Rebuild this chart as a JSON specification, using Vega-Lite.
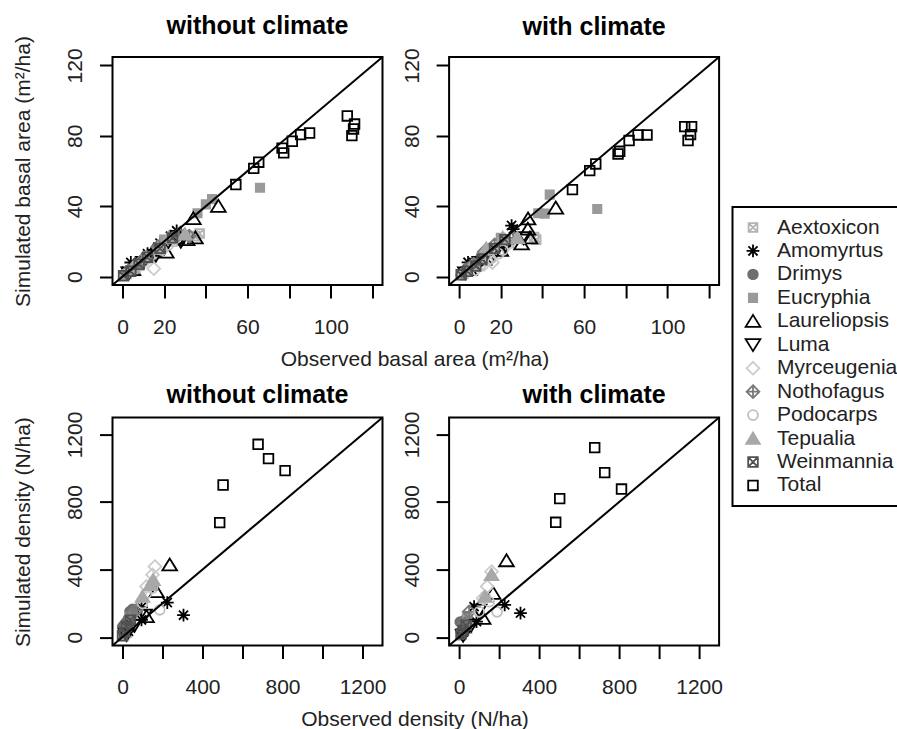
{
  "$schema": "https://vega.github.io/schema/vega-lite/v6.json",
  "background": "white",
  "padding": {"left": 10.5, "top": 13, "right": 0, "bottom": 0},
  "bounds": "flush",
  "columns": 2,
  "spacing": {"row": 132.6, "column": 66.6},
  "resolve": {"scale": {"x": "independent", "y": "independent", "shape": "shared", "fill": "shared", "stroke": "shared"}},
  "datasets": {
    "line_ba": [{"lo": -4.8, "hi": 124.8}],
    "line_d": [{"lo": -50, "hi": 1300}],
    "ba_wo": [
      {"species": "Aextoxicon", "obs": 35, "sim": 23}, {"species": "Aextoxicon", "obs": 37, "sim": 24.5}, {"species": "Aextoxicon", "obs": 14, "sim": 11}, {"species": "Aextoxicon", "obs": 8, "sim": 6.5}, {"species": "Aextoxicon", "obs": 2, "sim": 1.5}, {"species": "Aextoxicon", "obs": 24, "sim": 20},
      {"species": "Amomyrtus", "obs": 26, "sim": 26}, {"species": "Amomyrtus", "obs": 23, "sim": 23}, {"species": "Amomyrtus", "obs": 28, "sim": 25}, {"species": "Amomyrtus", "obs": 12, "sim": 13}, {"species": "Amomyrtus", "obs": 6, "sim": 6.5}, {"species": "Amomyrtus", "obs": 2, "sim": 3}, {"species": "Amomyrtus", "obs": 18, "sim": 19}, {"species": "Amomyrtus", "obs": 4, "sim": 8},
      {"species": "Drimys", "obs": 4, "sim": 4}, {"species": "Drimys", "obs": 9, "sim": 8}, {"species": "Drimys", "obs": 13, "sim": 12}, {"species": "Drimys", "obs": 1, "sim": 1}, {"species": "Drimys", "obs": 6, "sim": 5},
      {"species": "Eucryphia", "obs": 40, "sim": 41}, {"species": "Eucryphia", "obs": 43, "sim": 44}, {"species": "Eucryphia", "obs": 36, "sim": 36}, {"species": "Eucryphia", "obs": 66, "sim": 50.5}, {"species": "Eucryphia", "obs": 20, "sim": 21}, {"species": "Eucryphia", "obs": 3, "sim": 2.5},
      {"species": "Laureliopsis", "obs": 46, "sim": 40}, {"species": "Laureliopsis", "obs": 34, "sim": 33}, {"species": "Laureliopsis", "obs": 31, "sim": 21}, {"species": "Laureliopsis", "obs": 35, "sim": 22}, {"species": "Laureliopsis", "obs": 21, "sim": 14}, {"species": "Laureliopsis", "obs": 15, "sim": 15}, {"species": "Laureliopsis", "obs": 5, "sim": 4}, {"species": "Laureliopsis", "obs": 26, "sim": 22},
      {"species": "Luma", "obs": 20, "sim": 16}, {"species": "Luma", "obs": 28, "sim": 20}, {"species": "Luma", "obs": 10, "sim": 8}, {"species": "Luma", "obs": 3, "sim": 2}, {"species": "Luma", "obs": 16, "sim": 12},
      {"species": "Myrceugenia", "obs": 15, "sim": 4.5}, {"species": "Myrceugenia", "obs": 7, "sim": 6}, {"species": "Myrceugenia", "obs": 25, "sim": 21}, {"species": "Myrceugenia", "obs": 2, "sim": 2}, {"species": "Myrceugenia", "obs": 11, "sim": 9},
      {"species": "Nothofagus", "obs": 17, "sim": 17}, {"species": "Nothofagus", "obs": 27, "sim": 24}, {"species": "Nothofagus", "obs": 10, "sim": 10}, {"species": "Nothofagus", "obs": 3, "sim": 3}, {"species": "Nothofagus", "obs": 32, "sim": 23}, {"species": "Nothofagus", "obs": 6, "sim": 6},
      {"species": "Podocarps", "obs": 13, "sim": 11}, {"species": "Podocarps", "obs": 8, "sim": 6}, {"species": "Podocarps", "obs": 19, "sim": 15}, {"species": "Podocarps", "obs": 1, "sim": 1}, {"species": "Podocarps", "obs": 22, "sim": 18},
      {"species": "Tepualia", "obs": 11, "sim": 11}, {"species": "Tepualia", "obs": 22, "sim": 22}, {"species": "Tepualia", "obs": 5, "sim": 5}, {"species": "Tepualia", "obs": 30, "sim": 24}, {"species": "Tepualia", "obs": 17, "sim": 16},
      {"species": "Weinmannia", "obs": 18, "sim": 16}, {"species": "Weinmannia", "obs": 24, "sim": 22}, {"species": "Weinmannia", "obs": 12, "sim": 11}, {"species": "Weinmannia", "obs": 4, "sim": 3}, {"species": "Weinmannia", "obs": 0.5, "sim": 0.5}, {"species": "Weinmannia", "obs": 8, "sim": 7},
      {"species": "Total", "obs": 54.4, "sim": 52.3}, {"species": "Total", "obs": 63, "sim": 61.5}, {"species": "Total", "obs": 65.4, "sim": 65}, {"species": "Total", "obs": 76.6, "sim": 73}, {"species": "Total", "obs": 77.4, "sim": 70.3}, {"species": "Total", "obs": 81.5, "sim": 76.9}, {"species": "Total", "obs": 85.5, "sim": 80.7}, {"species": "Total", "obs": 89.8, "sim": 81.6}, {"species": "Total", "obs": 107.9, "sim": 91.3}, {"species": "Total", "obs": 111.4, "sim": 86.7}, {"species": "Total", "obs": 110.9, "sim": 83.9}, {"species": "Total", "obs": 110.1, "sim": 80.1}
    ],
    "ba_w": [
      {"species": "Aextoxicon", "obs": 37, "sim": 21}, {"species": "Aextoxicon", "obs": 36, "sim": 22.5}, {"species": "Aextoxicon", "obs": 15, "sim": 11}, {"species": "Aextoxicon", "obs": 8, "sim": 6}, {"species": "Aextoxicon", "obs": 2, "sim": 1.5}, {"species": "Aextoxicon", "obs": 24, "sim": 19},
      {"species": "Amomyrtus", "obs": 25.2, "sim": 29}, {"species": "Amomyrtus", "obs": 26, "sim": 27}, {"species": "Amomyrtus", "obs": 22.7, "sim": 19.5}, {"species": "Amomyrtus", "obs": 14, "sim": 15}, {"species": "Amomyrtus", "obs": 7, "sim": 8}, {"species": "Amomyrtus", "obs": 3, "sim": 3}, {"species": "Amomyrtus", "obs": 20, "sim": 19}, {"species": "Amomyrtus", "obs": 4.3, "sim": 8.1},
      {"species": "Drimys", "obs": 4, "sim": 5}, {"species": "Drimys", "obs": 9, "sim": 9}, {"species": "Drimys", "obs": 12, "sim": 11}, {"species": "Drimys", "obs": 1, "sim": 1}, {"species": "Drimys", "obs": 6, "sim": 6},
      {"species": "Eucryphia", "obs": 66.3, "sim": 38.4}, {"species": "Eucryphia", "obs": 43.5, "sim": 46.6}, {"species": "Eucryphia", "obs": 41.1, "sim": 35.8}, {"species": "Eucryphia", "obs": 38, "sim": 36}, {"species": "Eucryphia", "obs": 20, "sim": 22}, {"species": "Eucryphia", "obs": 3, "sim": 3},
      {"species": "Laureliopsis", "obs": 46.4, "sim": 39}, {"species": "Laureliopsis", "obs": 33.1, "sim": 32.8}, {"species": "Laureliopsis", "obs": 30, "sim": 18.6}, {"species": "Laureliopsis", "obs": 34, "sim": 22}, {"species": "Laureliopsis", "obs": 20, "sim": 15}, {"species": "Laureliopsis", "obs": 12, "sim": 10}, {"species": "Laureliopsis", "obs": 5, "sim": 4}, {"species": "Laureliopsis", "obs": 33, "sim": 27},
      {"species": "Luma", "obs": 31, "sim": 22}, {"species": "Luma", "obs": 22, "sim": 17}, {"species": "Luma", "obs": 10, "sim": 8}, {"species": "Luma", "obs": 3, "sim": 2}, {"species": "Luma", "obs": 17, "sim": 13},
      {"species": "Myrceugenia", "obs": 16, "sim": 8}, {"species": "Myrceugenia", "obs": 8, "sim": 4}, {"species": "Myrceugenia", "obs": 24, "sim": 19}, {"species": "Myrceugenia", "obs": 3, "sim": 2}, {"species": "Myrceugenia", "obs": 12, "sim": 7},
      {"species": "Nothofagus", "obs": 17, "sim": 18}, {"species": "Nothofagus", "obs": 12, "sim": 14}, {"species": "Nothofagus", "obs": 26, "sim": 22}, {"species": "Nothofagus", "obs": 3, "sim": 3}, {"species": "Nothofagus", "obs": 7, "sim": 7},
      {"species": "Podocarps", "obs": 15, "sim": 10}, {"species": "Podocarps", "obs": 10, "sim": 6}, {"species": "Podocarps", "obs": 19, "sim": 13}, {"species": "Podocarps", "obs": 2, "sim": 1}, {"species": "Podocarps", "obs": 21, "sim": 15},
      {"species": "Tepualia", "obs": 13, "sim": 16}, {"species": "Tepualia", "obs": 21, "sim": 22}, {"species": "Tepualia", "obs": 6, "sim": 6}, {"species": "Tepualia", "obs": 28, "sim": 22},
      {"species": "Weinmannia", "obs": 17, "sim": 16}, {"species": "Weinmannia", "obs": 22, "sim": 21}, {"species": "Weinmannia", "obs": 11, "sim": 10}, {"species": "Weinmannia", "obs": 4, "sim": 3}, {"species": "Weinmannia", "obs": 1, "sim": 1}, {"species": "Weinmannia", "obs": 8, "sim": 6},
      {"species": "Total", "obs": 54.4, "sim": 49.4}, {"species": "Total", "obs": 62.7, "sim": 60.2}, {"species": "Total", "obs": 65.6, "sim": 64}, {"species": "Total", "obs": 76.3, "sim": 69.7}, {"species": "Total", "obs": 77.1, "sim": 71.2}, {"species": "Total", "obs": 81.6, "sim": 77.3}, {"species": "Total", "obs": 85.9, "sim": 80.5}, {"species": "Total", "obs": 90.2, "sim": 80.5}, {"species": "Total", "obs": 108.3, "sim": 85.2}, {"species": "Total", "obs": 111.6, "sim": 85.2}, {"species": "Total", "obs": 111.1, "sim": 80.7}, {"species": "Total", "obs": 109.9, "sim": 77.3}
    ],
    "d_wo": [
      {"species": "Aextoxicon", "obs": 20, "sim": 25}, {"species": "Aextoxicon", "obs": 8, "sim": 12}, {"species": "Aextoxicon", "obs": 40, "sim": 60},
      {"species": "Amomyrtus", "obs": 305, "sim": 130}, {"species": "Amomyrtus", "obs": 224, "sim": 205}, {"species": "Amomyrtus", "obs": 95, "sim": 102}, {"species": "Amomyrtus", "obs": 95, "sim": 178}, {"species": "Amomyrtus", "obs": 30, "sim": 35},
      {"species": "Drimys", "obs": 37, "sim": 151}, {"species": "Drimys", "obs": 30, "sim": 110}, {"species": "Drimys", "obs": 10, "sim": 75}, {"species": "Drimys", "obs": 0, "sim": 60}, {"species": "Drimys", "obs": 20, "sim": 90}, {"species": "Drimys", "obs": 50, "sim": 165},
      {"species": "Eucryphia", "obs": 37, "sim": 120}, {"species": "Eucryphia", "obs": 15, "sim": 40}, {"species": "Eucryphia", "obs": 5, "sim": 20},
      {"species": "Laureliopsis", "obs": 236, "sim": 428}, {"species": "Laureliopsis", "obs": 170, "sim": 270}, {"species": "Laureliopsis", "obs": 120, "sim": 122},
      {"species": "Luma", "obs": 60, "sim": 70}, {"species": "Luma", "obs": 110, "sim": 130}, {"species": "Luma", "obs": 20, "sim": 15},
      {"species": "Myrceugenia", "obs": 162, "sim": 418}, {"species": "Myrceugenia", "obs": 150, "sim": 370}, {"species": "Myrceugenia", "obs": 120, "sim": 300},
      {"species": "Nothofagus", "obs": 50, "sim": 140}, {"species": "Nothofagus", "obs": 30, "sim": 80}, {"species": "Nothofagus", "obs": 70, "sim": 160},
      {"species": "Podocarps", "obs": 120, "sim": 260}, {"species": "Podocarps", "obs": 186, "sim": 162}, {"species": "Podocarps", "obs": 100, "sim": 200}, {"species": "Podocarps", "obs": 150, "sim": 290},
      {"species": "Tepualia", "obs": 153, "sim": 339}, {"species": "Tepualia", "obs": 140, "sim": 310}, {"species": "Tepualia", "obs": 100, "sim": 240},
      {"species": "Weinmannia", "obs": 20, "sim": 63}, {"species": "Weinmannia", "obs": 0, "sim": 8}, {"species": "Weinmannia", "obs": 10, "sim": 30}, {"species": "Weinmannia", "obs": 40, "sim": 100},
      {"species": "Total", "obs": 678, "sim": 1142}, {"species": "Total", "obs": 730, "sim": 1057}, {"species": "Total", "obs": 813, "sim": 986}, {"species": "Total", "obs": 503, "sim": 901}, {"species": "Total", "obs": 486, "sim": 678}
    ],
    "d_w": [
      {"species": "Aextoxicon", "obs": 25, "sim": 35}, {"species": "Aextoxicon", "obs": 8, "sim": 10}, {"species": "Aextoxicon", "obs": 40, "sim": 50},
      {"species": "Amomyrtus", "obs": 307, "sim": 142}, {"species": "Amomyrtus", "obs": 228, "sim": 191}, {"species": "Amomyrtus", "obs": 75, "sim": 181}, {"species": "Amomyrtus", "obs": 87, "sim": 92}, {"species": "Amomyrtus", "obs": 20, "sim": 30},
      {"species": "Drimys", "obs": 30, "sim": 100}, {"species": "Drimys", "obs": 20, "sim": 60}, {"species": "Drimys", "obs": 10, "sim": 30}, {"species": "Drimys", "obs": 40, "sim": 120}, {"species": "Drimys", "obs": 5, "sim": 90},
      {"species": "Eucryphia", "obs": 40, "sim": 110}, {"species": "Eucryphia", "obs": 15, "sim": 40},
      {"species": "Laureliopsis", "obs": 237, "sim": 453}, {"species": "Laureliopsis", "obs": 170, "sim": 260}, {"species": "Laureliopsis", "obs": 120, "sim": 112},
      {"species": "Luma", "obs": 60, "sim": 70}, {"species": "Luma", "obs": 100, "sim": 160}, {"species": "Luma", "obs": 20, "sim": 10},
      {"species": "Myrceugenia", "obs": 162, "sim": 388}, {"species": "Myrceugenia", "obs": 120, "sim": 230}, {"species": "Myrceugenia", "obs": 140, "sim": 300},
      {"species": "Nothofagus", "obs": 50, "sim": 150}, {"species": "Nothofagus", "obs": 30, "sim": 80},
      {"species": "Podocarps", "obs": 190, "sim": 150}, {"species": "Podocarps", "obs": 150, "sim": 210}, {"species": "Podocarps", "obs": 100, "sim": 150}, {"species": "Podocarps", "obs": 130, "sim": 240},
      {"species": "Tepualia", "obs": 162, "sim": 369}, {"species": "Tepualia", "obs": 130, "sim": 240},
      {"species": "Weinmannia", "obs": 20, "sim": 40}, {"species": "Weinmannia", "obs": 10, "sim": 20}, {"species": "Weinmannia", "obs": 35, "sim": 70},
      {"species": "Total", "obs": 678, "sim": 1122}, {"species": "Total", "obs": 728, "sim": 974}, {"species": "Total", "obs": 812, "sim": 877}, {"species": "Total", "obs": 503, "sim": 820}, {"species": "Total", "obs": 483, "sim": 680}
    ]
  },
  "concat": [
    {
      "width": 270, "height": 228,
      "title": {"text": "without climate", "offset": 23, "dx": 10, "dy": 26.6},
      "layer": [
        {
          "data": {"name": "ba_wo"},
          "mark": {"type": "point", "size": 256, "strokeWidth": 1.8, "opacity": 1},
          "encoding": {
            "x": {"field": "obs", "type": "quantitative", "scale": {"domain": [-4.8, 124.8], "nice": false, "zero": false},
              "axis": {"values": [0, 20, 40, 60, 80, 100, 120], "labelExpr": "indexof([0, 20, 60, 100], datum.value) >= 0 ? datum.label : ''", "title": "Observed basal area (m²/ha)", "titleX": 302, "titleY": 80, "titleAlign": "center", "titleBaseline": "alphabetic", "titleAngle": 0}},
            "y": {"field": "sim", "type": "quantitative", "scale": {"domain": [-4.8, 124.8], "nice": false, "zero": false},
              "axis": {"values": [0, 20, 40, 60, 80, 100, 120], "labelExpr": "datum.value % 40 == 0 ? datum.label : ''", "title": "Simulated basal area (m²/ha)", "titleX": -83, "titleY": 114, "titleAlign": "center", "titleBaseline": "alphabetic", "titleAngle": -90}},
            "shape": {"field": "species", "type": "nominal",
              "scale": {"domain": ["Aextoxicon", "Amomyrtus", "Drimys", "Eucryphia", "Laureliopsis", "Luma", "Myrceugenia", "Nothofagus", "Podocarps", "Tepualia", "Weinmannia", "Total"],
                "range": ["M-0.55,-0.55H0.55V0.55H-0.55ZM-0.55,-0.55L0.55,0.55M-0.55,0.55L0.55,-0.55", "M-0.8,0H0.8M0,-0.8V0.8M-0.57,-0.57L0.57,0.57M-0.57,0.57L0.57,-0.57", "M-0.6,0A0.6,0.6,0,1,1,0.6,0A0.6,0.6,0,1,1,-0.6,0Z", "M-0.52,-0.52H0.52V0.52H-0.52Z", "M0,-0.8L0.92,0.7L-0.92,0.7Z", "M0,0.8L0.92,-0.7L-0.92,-0.7Z", "M0,-0.8L0.8,0L0,0.8L-0.8,0Z", "M0,-0.8L0.8,0L0,0.8L-0.8,0ZM0,-0.8V0.8M-0.8,0H0.8", "M-0.62,0A0.62,0.62,0,1,1,0.62,0A0.62,0.62,0,1,1,-0.62,0Z", "M0,-0.75L0.85,0.65L-0.85,0.65Z", "M-0.6,-0.6H0.6V0.6H-0.6ZM-0.6,-0.6L0.6,0.6M-0.6,0.6L0.6,-0.6", "M-0.6,-0.6H0.6V0.6H-0.6Z"]},
              "legend": {"orient": "none", "legendX": 620, "legendY": 150, "title": null}},
            "fill": {"field": "species", "type": "nominal",
              "scale": {"domain": ["Aextoxicon", "Amomyrtus", "Drimys", "Eucryphia", "Laureliopsis", "Luma", "Myrceugenia", "Nothofagus", "Podocarps", "Tepualia", "Weinmannia", "Total"],
                "range": ["transparent", "transparent", "#6e6e6e", "#9a9a9a", "transparent", "transparent", "transparent", "transparent", "transparent", "#a8a8a8", "transparent", "transparent"]},
              "legend": {"orient": "none", "legendX": 620, "legendY": 150, "title": null}},
            "stroke": {"field": "species", "type": "nominal",
              "scale": {"domain": ["Aextoxicon", "Amomyrtus", "Drimys", "Eucryphia", "Laureliopsis", "Luma", "Myrceugenia", "Nothofagus", "Podocarps", "Tepualia", "Weinmannia", "Total"],
                "range": ["#b3b3b3", "#000000", "#6e6e6e", "#9a9a9a", "#000000", "#000000", "#cccccc", "#7a7a7a", "#c0c0c0", "#a8a8a8", "#505050", "#000000"]},
              "legend": {"orient": "none", "legendX": 620, "legendY": 150, "title": null}}
          }
        },
        {
          "data": {"name": "line_ba"},
          "mark": {"type": "rule", "color": "black", "strokeWidth": 2},
          "encoding": {
            "x": {"field": "lo", "type": "quantitative"},
            "x2": {"field": "hi"},
            "y": {"field": "lo", "type": "quantitative"},
            "y2": {"field": "hi"}
          }
        }
      ]
    },
    {
      "width": 270, "height": 228,
      "title": {"text": "with climate", "offset": 23, "dx": 10, "dy": 14.6},
      "layer": [
        {
          "data": {"name": "ba_w"},
          "mark": {"type": "point", "size": 256, "strokeWidth": 1.8, "opacity": 1},
          "encoding": {
            "x": {"field": "obs", "type": "quantitative", "scale": {"domain": [-4.8, 124.8], "nice": false, "zero": false},
              "axis": {"values": [0, 20, 40, 60, 80, 100, 120], "labelExpr": "indexof([0, 20, 60, 100], datum.value) >= 0 ? datum.label : ''", "title": null}},
            "y": {"field": "sim", "type": "quantitative", "scale": {"domain": [-4.8, 124.8], "nice": false, "zero": false},
              "axis": {"values": [0, 20, 40, 60, 80, 100, 120], "labelExpr": "datum.value % 40 == 0 ? datum.label : ''", "title": null}},
            "shape": {"field": "species", "type": "nominal", "legend": {"orient": "none", "legendX": 620, "legendY": 150, "title": null}},
            "fill": {"field": "species", "type": "nominal", "legend": {"orient": "none", "legendX": 620, "legendY": 150, "title": null}},
            "stroke": {"field": "species", "type": "nominal", "legend": {"orient": "none", "legendX": 620, "legendY": 150, "title": null}}
          }
        },
        {
          "data": {"name": "line_ba"},
          "mark": {"type": "rule", "color": "black", "strokeWidth": 2},
          "encoding": {
            "x": {"field": "lo", "type": "quantitative"},
            "x2": {"field": "hi"},
            "y": {"field": "lo", "type": "quantitative"},
            "y2": {"field": "hi"}
          }
        }
      ]
    },
    {
      "width": 270, "height": 228,
      "title": {"text": "without climate", "offset": 16, "dx": 10, "dy": 12.4},
      "layer": [
        {
          "data": {"name": "d_wo"},
          "mark": {"type": "point", "size": 256, "strokeWidth": 1.8, "opacity": 1},
          "encoding": {
            "x": {"field": "obs", "type": "quantitative", "scale": {"domain": [-50, 1300], "nice": false, "zero": false},
              "axis": {"values": [0, 200, 400, 600, 800, 1000, 1200], "format": "d", "labelExpr": "datum.value % 400 == 0 ? datum.label : ''", "title": "Observed density (N/ha)", "titleX": 302, "titleY": 80, "titleAlign": "center", "titleBaseline": "alphabetic", "titleAngle": 0}},
            "y": {"field": "sim", "type": "quantitative", "scale": {"domain": [-50, 1300], "nice": false, "zero": false},
              "axis": {"values": [0, 200, 400, 600, 800, 1000, 1200], "format": "d", "labelExpr": "datum.value % 400 == 0 ? datum.label : ''", "title": "Simulated density (N/ha)", "titleX": -83, "titleY": 114, "titleAlign": "center", "titleBaseline": "alphabetic", "titleAngle": -90}},
            "shape": {"field": "species", "type": "nominal", "legend": {"orient": "none", "legendX": 620, "legendY": 150, "title": null}},
            "fill": {"field": "species", "type": "nominal", "legend": {"orient": "none", "legendX": 620, "legendY": 150, "title": null}},
            "stroke": {"field": "species", "type": "nominal", "legend": {"orient": "none", "legendX": 620, "legendY": 150, "title": null}}
          }
        },
        {
          "data": {"name": "line_d"},
          "mark": {"type": "rule", "color": "black", "strokeWidth": 2},
          "encoding": {
            "x": {"field": "lo", "type": "quantitative"},
            "x2": {"field": "hi"},
            "y": {"field": "lo", "type": "quantitative"},
            "y2": {"field": "hi"}
          }
        }
      ]
    },
    {
      "width": 270, "height": 228,
      "title": {"text": "with climate", "offset": 16, "dx": 10, "dy": 12.4},
      "layer": [
        {
          "data": {"name": "d_w"},
          "mark": {"type": "point", "size": 256, "strokeWidth": 1.8, "opacity": 1},
          "encoding": {
            "x": {"field": "obs", "type": "quantitative", "scale": {"domain": [-50, 1300], "nice": false, "zero": false},
              "axis": {"values": [0, 200, 400, 600, 800, 1000, 1200], "format": "d", "labelExpr": "datum.value % 400 == 0 ? datum.label : ''", "title": null}},
            "y": {"field": "sim", "type": "quantitative", "scale": {"domain": [-50, 1300], "nice": false, "zero": false},
              "axis": {"values": [0, 200, 400, 600, 800, 1000, 1200], "format": "d", "labelExpr": "datum.value % 400 == 0 ? datum.label : ''", "title": null}},
            "shape": {"field": "species", "type": "nominal", "legend": {"orient": "none", "legendX": 620, "legendY": 150, "title": null}},
            "fill": {"field": "species", "type": "nominal", "legend": {"orient": "none", "legendX": 620, "legendY": 150, "title": null}},
            "stroke": {"field": "species", "type": "nominal", "legend": {"orient": "none", "legendX": 620, "legendY": 150, "title": null}}
          }
        },
        {
          "data": {"name": "line_d"},
          "mark": {"type": "rule", "color": "black", "strokeWidth": 2},
          "encoding": {
            "x": {"field": "lo", "type": "quantitative"},
            "x2": {"field": "hi"},
            "y": {"field": "lo", "type": "quantitative"},
            "y2": {"field": "hi"}
          }
        }
      ]
    }
  ],
  "config": {
    "font": "Liberation Sans",
    "view": {"stroke": "black", "strokeWidth": 2},
    "title": {"font": "Liberation Sans", "fontSize": 25, "fontWeight": "bold", "color": "black", "anchor": "middle", "frame": "group", "baseline": "alphabetic"},
    "axis": {"domain": false, "grid": false, "tickColor": "black", "tickWidth": 2, "tickSize": 13, "labelFont": "Liberation Sans", "labelFontSize": 21, "labelColor": "#222222", "labelFlush": false, "labelOverlap": false, "labelPadding": 18, "titleFont": "Liberation Sans", "titleFontSize": 21, "titleFontWeight": "normal", "titleColor": "#222222"},
    "axisX": {"labelAngle": 0, "labelAlign": "center", "labelBaseline": "top"},
    "axisY": {"labelAngle": -90, "labelAlign": "center", "labelBaseline": "alphabetic"},
    "legend": {"labelFont": "Liberation Sans", "labelFontSize": 21, "labelColor": "#222222", "symbolSize": 256, "symbolStrokeWidth": 1.8, "strokeColor": "black", "strokeWidth": 2, "padding": 10, "rowPadding": 1.45, "labelOffset": 13.5, "labelLimit": 300}
  }
}
